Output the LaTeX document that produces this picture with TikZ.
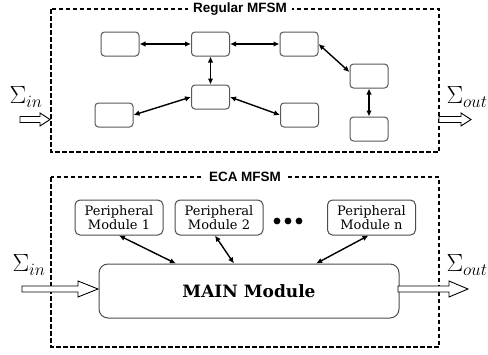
\documentclass[tikz,border=0pt]{standalone}
\usepackage{fontspec}
\newfontfamily\titlefont{Liberation Sans}
\newfontfamily\boxfont{DejaVu Serif}
\usetikzlibrary{arrows.meta,calc}
\newcommand\hollowarr[6]{% x1 x2 x3 y shaft-half head-half
  \draw[line width=0.9pt,fill=white] (#1,#4-#5) -- (#2,#4-#5) -- (#2,#4-#6) -- (#3,#4) -- (#2,#4+#6) -- (#2,#4+#5) -- (#1,#4+#5) -- cycle;}
\begin{document}
\begin{tikzpicture}[x=1pt,y=-1pt,
  state/.style={draw=black!65, rounded corners=3.5pt, minimum width=38pt, minimum height=24pt, inner sep=0pt, line width=1pt},
  periph/.style={draw=black!70, rounded corners=5pt, minimum width=88pt, minimum height=35pt, inner sep=0pt, line width=1pt, align=center, font=\boxfont\fontsize{13}{12.5}\selectfont},
  link/.style={{Latex[length=6pt,width=5.5pt]}-{Latex[length=6pt,width=5.5pt]}, line width=1.4pt},
  frame/.style={draw, dash pattern=on 4.5pt off 2.5pt, line width=1.3pt},
  frametitle/.style={fill=white, inner sep=5pt, font=\titlefont\bfseries\fontsize{13.5}{14}\selectfont},
  sig/.style={inner sep=0pt, font=\fontsize{26}{28}\selectfont}]
\useasboundingbox (0,0) rectangle (488,354);
% top frame
\draw[frame] (51,9) rectangle (439,152);
\node[frametitle] (t1) at (240,9) {Regular MFSM};
\node[state] (A) at (120,44) {};
\node[state] (B) at (210.5,44) {};
\node[state] (C) at (299,44) {};
\node[state] (D) at (369,76) {};
\node[state] (E) at (369,129) {};
\node[state] (F) at (210.5,97) {};
\node[state] (G) at (114,115) {};
\node[state] (H) at (299.5,115) {};
\draw[link] (A.east) -- (B.west);
\draw[link] (B.east) -- (C.west);
\draw[link] (B.south) -- (F.north);
\draw[link] (F.west) -- (G.east);
\draw[link] (F.east) -- (H.west);
\draw[link] (C.east) -- ($(D.west)+(0,-4)$);
\draw[link] (D.south) -- (E.north);
\node[sig] (sin1) at (26,97) {$\Sigma_{in}$};
\node[sig] (sout1) at (467,97) {$\Sigma_{out}$};
\hollowarr{20}{40}{50}{119.5}{3}{6.5}
\hollowarr{439}{461}{471}{119.5}{3}{6.5}
% bottom frame
\draw[frame] (51,177) rectangle (439,347);
\node[frametitle] (t2) at (245,177) {ECA MFSM};
\node[periph] (P1) at (119,217.5) {Peripheral\\Module 1};
\node[periph] (P2) at (219,217.5) {Peripheral\\Module 2};
\node[periph] (Pn) at (371.5,217.5) {Peripheral\\Module n};
\fill (277,221) circle (3.4pt) (288,221) circle (3.4pt) (299,221) circle (3.4pt);
\node[draw=black!70, rounded corners=9pt, minimum width=300pt, minimum height=54pt, line width=1pt, font=\boxfont\bfseries\fontsize{17}{18}\selectfont] (M) at (249,291) {MAIN Module};
\draw[link] (P1.south) -- ($(M.north west)!0.257!(M.north east)$);
\draw[link] ($(P2.south)+(-4,0)$) -- ($(M.north west)!0.45!(M.north east)$);
\draw[link] ($(Pn.south)+(-3,0)$) -- ($(M.north west)!0.723!(M.north east)$);
\node[sig] (sin2) at (29,265) {$\Sigma_{in}$};
\node[sig] (sout2) at (467,265) {$\Sigma_{out}$};
\hollowarr{22}{78}{98}{289}{3}{8}
\hollowarr{398}{449}{468}{289}{3}{8}
\end{tikzpicture}
\end{document}
